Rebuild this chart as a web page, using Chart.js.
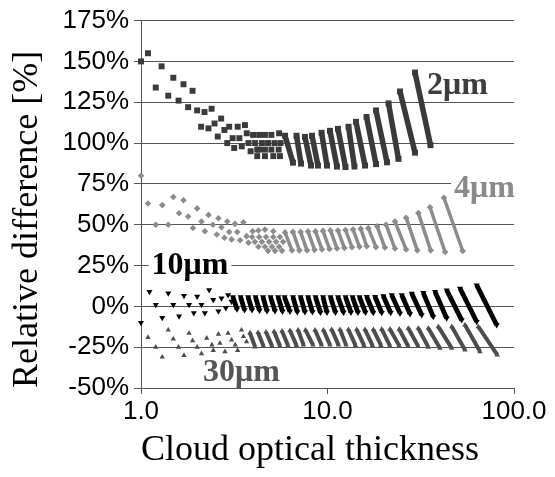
<!DOCTYPE html>
<html>
<head>
<meta charset="utf-8">
<script src="https://cdn.jsdelivr.net/npm/chart.js@4/dist/chart.umd.min.js"></script>
<style>
html,body{margin:0;padding:0;background:#fff;}
#wrap{width:555px;height:477px;position:relative;}
</style>
</head>
<body>
<div id="wrap"><canvas id="c"></canvas></div>
<script>
// ---------- axes ----------
const xTickValues = [1, 10, 100];
const xTickLabels = ['1.0', '10.0', '100.0'];
const yTickValues = [-50, -25, 0, 25, 50, 75, 100, 125, 150, 175];
const seriesNames = ['2μm', '4μm', '10μm', '30μm'];

// ---------- 2 μm : isolated markers ----------
const pts2x = [1.00,1.09,1.20,1.29,1.40,1.49,1.59,1.69,1.79,1.89,2.00,2.10,2.19,2.30,2.39,2.48,2.58,2.69,2.80,2.90,2.97,3.10,3.16,3.30,3.37,3.47,3.61,3.69,3.77,3.87,
               3.99,4.09,4.20,4.20,4.30,4.45,4.30,4.62,4.62,4.80,4.62,5.12,5.00,5.20,5.00,5.56,5.50,5.60,5.47];
const pts2y = [150,155,134,147,129,140,126,136,122,132,120,110,119,109,121,112,104,115,108,100,110,103,97,110,103,98,111,106,100,95,
               105,100,96,92,105,100,96,92,105,100,96,92,105,100,96,92,106,100,96];
// 2 μm : streaks (upper end -> lower end)
const str2TopX = [5.92,6.82,7.57,8.26,9.29,10.31,11.38,12.96,14.22,16.19,18.2,21.24,24.48,29.46];
const str2TopY = [104.5,104.5,103.8,104.5,106.3,107.5,108.7,110,113,116,120,124.3,131.6,143.2];
const str2BotX = [6.53,7.21,8.16,8.89,9.94,11.24,12.49,13.95,15.89,18.2,20.85,24.02,29.46,35.67];
const str2BotY = [88,87.4,86.2,86.2,86.2,85.6,85.3,85.6,86.2,87.1,88.2,90.3,94.1,98.7];

// ---------- 4 μm ----------
const pts4x = [1.00,1.09,1.20,1.30,1.40,1.49,1.60,1.69,1.79,1.90,2.00,2.11,2.20,2.30,2.43,2.55,2.60,2.70,2.80,2.90,2.97,3.06,3.19,3.28,3.40,3.54,3.68,3.77,
               3.97,4.26,4.62,5.12,3.94,4.30,4.68,5.12,5.56,4.08,4.45,4.86,5.30,5.78,4.26,4.62,5.04,5.50,4.80,5.23,5.70];
const pts4y = [80,63,50,62,50,67,57,65,55,48,60,52,46,56,50,44,54,48.5,42,52,45.5,41,50.5,45.5,40.5,51.5,43,39,
               46,46.5,47,46,42.5,42.5,42.5,42.5,42.5,39.5,39.5,39.5,39.5,39.5,36.5,36.5,36.5,36.5,34,34,34];
const str4TopX = [5.92,6.53,7.17,7.86,8.62,9.46,10.37,11.38,12.49,13.7,15.07,16.55,18.46,20.6,23.0,26.4,30.7,35.45,42.1];
const str4TopY = [45.3,45.6,45.6,45.9,45.9,46.2,46.5,46.5,46.8,47.1,47.6,47.9,49,50,52,54.3,57.1,60.7,66.5];
const str4BotX = [6.45,7.07,7.76,8.52,9.34,10.25,11.24,12.31,13.53,14.84,16.23,18.2,20.3,23.0,26.4,30.3,35.76,42.7,53.1];
const str4BotY = [34.3,34.3,34.3,34.6,34.9,35.2,35.5,35.8,36.2,36.5,36.8,36.3,36,35.4,34.8,34.3,34.3,33.3,33.9];

// ---------- 10 μm ----------
const pts10x = [1.00,1.11,1.20,1.30,1.40,1.49,1.60,1.70,1.81,1.92,2.00,2.11,2.20,2.32,2.44,2.60,2.70,2.85,2.93,3.06];
const pts10y = [-10,9,1,-7,8,1,-6,6.5,1,-4,6,1,-4,10,4,-3,5,-1,7,3];
const str10TopX = [3.11,3.42,3.75,4.11,4.51,4.95,5.43,5.88,6.53,7.17,7.86,8.62,9.46,10.37,11.38,12.49,13.61,14.84,16.23,17.98,19.91,22.09,25.0,28.29,32.62,37.71,43.56,51.34,63.09];
const str10TopY = [5.7,5.7,5.7,5.7,5.7,5.7,5.7,5.7,5.7,5.7,5.7,5.7,5.7,5.7,5.7,5.7,5.7,5.7,5.9,5.9,6.3,6.9,6.9,7.9,8.3,8.9,9.9,11.0,13.0];
const str10BotX = [3.27,3.59,3.94,4.32,4.74,5.23,5.74,6.29,6.89,7.57,8.31,9.17,9.94,11.03,12.19,13.36,14.57,15.99,17.61,19.53,21.82,24.48,27.7,32.0,36.91,43.56,52.43,63.09,80.76];
const str10BotY = [-1.7,-2.3,-2.3,-2.6,-2.9,-2.9,-3.2,-3.2,-3.5,-3.5,-3.5,-3.8,-3.8,-3.8,-3.8,-3.8,-3.8,-3.8,-3.9,-3.9,-3.9,-4.3,-4.7,-5.3,-6.4,-7.3,-8.4,-9.4,-11.4];

// ---------- 30 μm ----------
const pts30x = [1.09,1.20,1.30,1.40,1.49,1.59,1.70,1.81,1.89,2.00,2.11,2.25,2.40,2.44,2.60,2.65,2.82,2.93,3.06,3.20,3.30,3.46,3.54,3.68];
const pts30y = [-19,-25,-31,-14.5,-20,-25,-30,-16.5,-21,-25,-29,-19.5,-23.6,-27,-17,-22.6,-27.7,-16.5,-20.6,-23.6,-27,-14.5,-18.5,-21.6];
const str30TopX = [3.84,4.24,4.68,5.17,5.70,6.29,6.95,7.62,8.57,9.51,10.53,11.67,12.94,14.34,15.89,17.62,19.53,21.63,24.26,27.12,30.68,34.71,39.27,46.34,54.61,64.35];
const str30TopY = [-16.3,-16.0,-15.7,-15.4,-15.1,-14.8,-14.5,-14.5,-14.5,-14.5,-14.2,-14.2,-14.2,-14.2,-14.2,-14.2,-14.0,-14.0,-14.0,-13.4,-13.4,-13.4,-12.4,-12.4,-11.4,-12.4];
const str30BotX = [4.09,4.54,5.04,5.56,6.14,6.82,7.44,8.36,9.29,10.31,11.45,12.57,14.13,15.70,17.43,19.36,21.63,24.26,27.12,30.68,34.71,40.11,46.34,54.61,65.72,81.37];
const str30BotY = [-24.8,-24.5,-24.2,-24.2,-23.9,-23.9,-23.6,-23.6,-23.6,-23.6,-23.6,-23.6,-23.9,-23.9,-23.9,-23.9,-24.2,-24.2,-24.6,-24.6,-25.0,-25.6,-25.6,-26.7,-27.7,-29.7];

// ---------- build point lists (null y = gap between marks) ----------
function buildSeries(px, py, tx, ty, bx, by) {
  const d = [];
  for (let i = 0; i < px.length; i++) {
    d.push({x: px[i], y: py[i]});
    d.push({x: px[i], y: null});
  }
  for (let i = 0; i < tx.length; i++) {
    d.push({x: tx[i], y: ty[i]});
    d.push({x: bx[i], y: by[i]});
    d.push({x: bx[i], y: null});
  }
  return d;
}

const seriesStyle = [
  {color: '#3a3a3a', width: 5.5, style: 'rect', radius: 4.2, rot: 0},
  {color: '#8c8c8c', width: 3.5, style: 'rectRot', radius: 3.3, rot: 0},
  {color: '#000000', width: 4.8, style: 'triangle', radius: 3.5, rot: 180},
  {color: '#4d4d4d', width: 4.0, style: 'triangle', radius: 3.1, rot: 0}
];
const seriesData = [
  buildSeries(pts2x, pts2y, str2TopX, str2TopY, str2BotX, str2BotY),
  buildSeries(pts4x, pts4y, str4TopX, str4TopY, str4BotX, str4BotY),
  buildSeries(pts10x, pts10y, str10TopX, str10TopY, str10BotX, str10BotY),
  buildSeries(pts30x, pts30y, str30TopX, str30TopY, str30BotX, str30BotY)
];

const datasets = seriesData.map((d, i) => ({
  label: seriesNames[i],
  data: d,
  showLine: true,
  spanGaps: false,
  tension: 0,
  borderColor: seriesStyle[i].color,
  borderWidth: seriesStyle[i].width,
  borderCapStyle: 'butt',
  pointStyle: seriesStyle[i].style,
  pointRadius: seriesStyle[i].radius,
  pointRotation: seriesStyle[i].rot,
  pointBackgroundColor: seriesStyle[i].color,
  pointBorderColor: seriesStyle[i].color,
  pointBorderWidth: 0,
  clip: false
}));

// in-plot series labels (placed in data coordinates)
const labelPlacement = [
  {x: 34.2, y: 130, color: '#3d3d3d', bg: false},
  {x: 47.7, y: 66.8, color: '#8a8a8a', bg: true},
  {x: 1.14, y: 19.7, color: '#000000', bg: true},
  {x: 2.15, y: -46, color: '#555555', bg: false}
];

const seriesLabelPlugin = {
  id: 'seriesLabels',
  beforeDatasetsDraw(chart) {
    const ctx = chart.ctx;
    const xs = chart.scales.x, ys = chart.scales.y;
    const size = 32;
    ctx.save();
    ctx.font = 'bold ' + size + 'px "Liberation Serif", "Times New Roman", serif';
    ctx.textAlign = 'left';
    ctx.textBaseline = 'alphabetic';
    labelPlacement.forEach((p, i) => {
      const px = xs.getPixelForValue(p.x);
      const py = ys.getPixelForValue(p.y);
      const w = ctx.measureText(seriesNames[i]).width;
      if (p.bg) {
        ctx.fillStyle = '#ffffff';
        ctx.fillRect(px - 3, py - size * 0.72, w + 6, size * 0.95);
      }
      ctx.fillStyle = p.color;
      ctx.fillText(seriesNames[i], px, py);
    });
    ctx.restore();
  }
};

const tickFont = {family: '"Liberation Sans", Arial, sans-serif', size: 26};
const titleFont = {family: '"Liberation Serif", "Times New Roman", serif', size: 36};

new Chart(document.getElementById('c'), {
  type: 'scatter',
  data: {datasets},
  options: {
    responsive: true,
    maintainAspectRatio: false,
    animation: false,
    devicePixelRatio: 1,
    events: [],
    layout: {padding: {top: 19, right: 41, bottom: 0, left: 0}},
    plugins: {legend: {display: false}, tooltip: {enabled: false}},
    scales: {
      x: {
        type: 'logarithmic',
        min: 1, max: 100,
        afterBuildTicks: s => { s.ticks = xTickValues.map(v => ({value: v})); },
        afterFit: s => { s.height = 89; },
        ticks: {
          callback: (v, i) => xTickLabels[i],
          font: tickFont, color: '#000', padding: 2,
          maxRotation: 0, autoSkip: false
        },
        grid: {drawOnChartArea: false, drawTicks: true, tickLength: 6, color: '#555'},
        border: {color: '#555', width: 1},
        title: {display: true, text: 'Cloud optical thickness', align: 'start',
                font: titleFont, color: '#000', padding: {top: 0, bottom: 5}}
      },
      y: {
        type: 'linear',
        min: -50, max: 175,
        afterBuildTicks: s => { s.ticks = yTickValues.map(v => ({value: v})); },
        afterFit: s => { s.width = 141; },
        ticks: {callback: v => v + '%', font: tickFont, color: '#000', padding: 5},
        grid: {color: '#555', tickLength: 7, drawTicks: true},
        border: {color: '#555', width: 1},
        title: {display: true, text: 'Relative difference [%]', align: 'start',
                font: titleFont, color: '#000', padding: {top: 6, bottom: 0}}
      }
    }
  },
  plugins: [seriesLabelPlugin]
});
</script>
</body>
</html>
